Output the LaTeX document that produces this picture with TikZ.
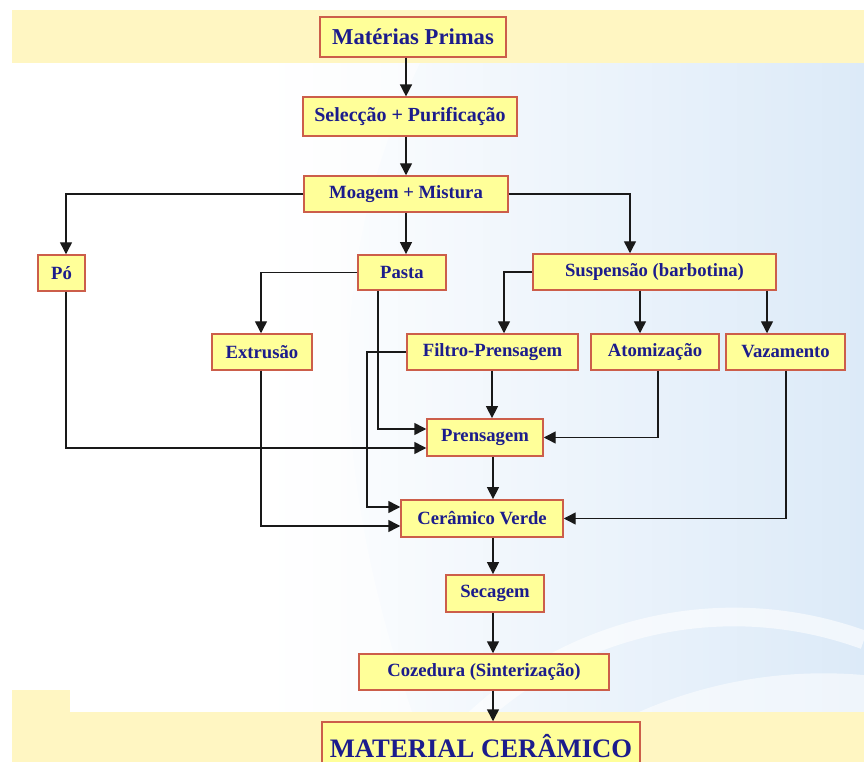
\documentclass[tikz,border=0pt]{standalone}
\usepackage{fontspec}
\setmainfont{Liberation Serif}
\usetikzlibrary{arrows.meta,calc}
\definecolor{boxfill}{HTML}{FFFF99}
\definecolor{boxline}{HTML}{CC5E4A}
\definecolor{navytext}{HTML}{1C1C8C}
\definecolor{bandyellow}{HTML}{FFF6C2}
\definecolor{paleblue}{HTML}{DCEAF8}
\tikzset{
  box/.style={draw=boxline, line width=1.1pt, fill=boxfill, text=navytext,
    font=\fontsize{14}{16}\selectfont\bfseries, inner sep=0pt, align=center},
  arr/.style={draw=black!90, line width=1.1pt, -{Triangle[length=9pt,width=9pt]}},
}
\begin{document}
\begin{tikzpicture}[x=0.75pt,y=-0.75pt]
\useasboundingbox (0,0) rectangle (864,762);
% background
\fill[white] (0,0) rectangle (864,762);
\shade[left color=white, right color=paleblue] (270,63) rectangle (864,735);
\begin{scope}
\clip (270,63) rectangle (864,735);
\draw[white, line width=30pt, opacity=0.55] (900,700) arc[start angle=-80, end angle=-190, radius=440];
\draw[white, line width=14pt, opacity=0.6] (864,640) arc[start angle=-70, end angle=-200, radius=380];
\fill[white, opacity=0.5] (270,63) -- (420,63) .. controls (330,250) and (320,450) .. (420,735) -- (270,735) -- cycle;
\end{scope}
\fill[bandyellow] (12,10) rectangle (864,63);
\fill[bandyellow] (12,690) rectangle (70,712);
\fill[bandyellow] (12,712) rectangle (864,762);
% column/row helpers
\coordinate (c66) at (66,0);
\coordinate (c261) at (261,0);
\coordinate (c367) at (367,0);
\coordinate (c378) at (378,0);
\coordinate (c406) at (406,0);
\coordinate (c492) at (492,0);
\coordinate (c493) at (493,0);
\coordinate (c504) at (504,0);
\coordinate (c630) at (630,0);
\coordinate (c640) at (640,0);
\coordinate (c658) at (658,0);
\coordinate (c767) at (767,0);
\coordinate (c786) at (786,0);
\coordinate (r429) at (0,429);
\coordinate (r448) at (0,448);
\coordinate (r507) at (0,507);
\coordinate (r526) at (0,526);
% nodes
\node[box, minimum width=139.5pt, minimum height=30pt, font=\fontsize{17}{19}\selectfont\bfseries] (mp) at (413,37) {Matérias Primas};
\node[box, minimum width=160.5pt, minimum height=29pt, font=\fontsize{15}{17}\selectfont\bfseries] (sp) at (410,116.5) {Selecção + Purificação};
\node[box, minimum width=153pt, minimum height=27pt] (mm) at (406,194) {Moagem + Mistura};
\node[box, minimum width=35pt, minimum height=27pt] (po) at (61.5,273) {Pó};
\node[box, minimum width=66pt, minimum height=26.5pt] (pa) at (402,272.5) {Pasta};
\node[box, minimum width=182pt, minimum height=27pt] (su) at (654.5,272) {Suspensão (barbotina)};
\node[box, minimum width=75pt, minimum height=27pt] (ex) at (262,352) {Extrusão};
\node[box, minimum width=128pt, minimum height=27pt] (fp) at (492.5,352) {Filtro-Prensagem};
\node[box, minimum width=96pt, minimum height=27pt] (at) at (655,352) {Atomização};
\node[box, minimum width=89pt, minimum height=27pt] (va) at (785.5,352) {Vazamento};
\node[box, minimum width=87pt, minimum height=28pt] (pr) at (485,437.5) {Prensagem};
\node[box, minimum width=121.5pt, minimum height=28pt] (cv) at (482,518.5) {Cerâmico Verde};
\node[box, minimum width=73.5pt, minimum height=28pt] (se) at (495,593.5) {Secagem};
\node[box, minimum width=187.5pt, minimum height=27pt] (co) at (484,672) {Cozedura (Sinterização)};
\node[box, minimum width=238.5pt, minimum height=36pt, font=\fontsize{20}{22}\selectfont\bfseries] (ma) at (481,746) {MATERIAL CERÂMICO};
% connectors
\draw[arr] (mp.south -| c406) -- (sp.north -| c406);
\draw[arr] (sp.south -| c406) -- (mm.north -| c406);
\draw[arr] (mm.south -| c406) -- (pa.north -| c406);
\draw[arr] (mm.west) -| (c66 |- po.north);
\draw[arr] (mm.east) -| (c630 |- su.north);
\draw[arr] (pa.west) -| (c261 |- ex.north);
\draw[arr] (pa.south -| c378) |- (pr.west |- r429);
\draw[arr] (po.south -| c66) |- (pr.west |- r448);
\draw[arr] (fp.west) -| (c367 |- r507) -- (cv.west |- r507);
\draw[arr] (ex.south -| c261) |- (cv.west |- r526);
\draw[arr] (su.west) -| (c504 |- fp.north);
\draw[arr] (su.south -| c640) -- (at.north -| c640);
\draw[arr] (su.south -| c767) -- (va.north -| c767);
\draw[arr] (fp.south -| c492) -- (pr.north -| c492);
\draw[arr] (at.south -| c658) |- (pr.east);
\draw[arr] (va.south -| c786) |- (cv.east);
\draw[arr] (pr.south -| c493) -- (cv.north -| c493);
\draw[arr] (cv.south -| c493) -- (se.north -| c493);
\draw[arr] (se.south -| c493) -- (co.north -| c493);
\draw[arr] (co.south -| c493) -- (ma.north -| c493);
\end{tikzpicture}
\end{document}
